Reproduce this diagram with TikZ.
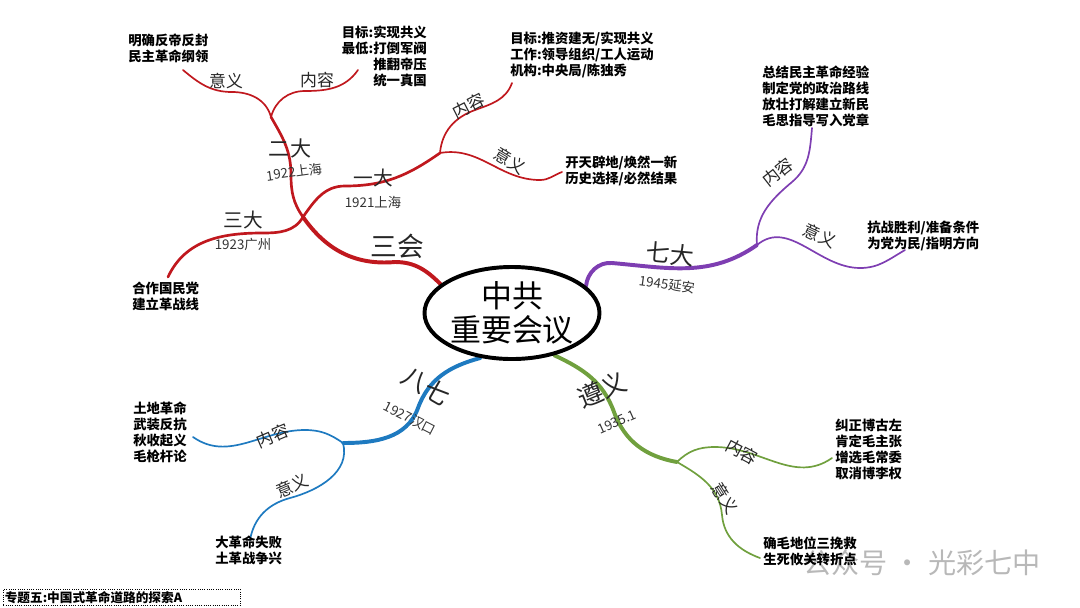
\documentclass[tikz,border=0pt]{standalone}
\usepackage{fontspec}
\setmainfont{Noto Sans CJK SC}
\usetikzlibrary{shapes.geometric,backgrounds}
\definecolor{cpred}{RGB}{192,24,30}
\definecolor{cppurple}{RGB}{126,62,178}
\definecolor{cpblue}{RGB}{30,122,192}
\definecolor{cpgreen}{RGB}{112,160,62}
\tikzset{
  hub/.style={ellipse,draw=black,fill=white,line width=2.8pt,minimum width=4.3cm,
    minimum height=2.3cm,inner sep=0pt,align=center,
    font=\fontsize{22}{24}\selectfont},
  trunk/.style={line width=2.8pt,line cap=round},
  limb/.style={line width=1.9pt,line cap=round},
  twig/.style={line width=1.2pt,line cap=round},
  bigl/.style={font=\fontsize{#1}{#1}\selectfont,text=black!85,inner sep=0pt},
  bigl/.default=15,
  yearl/.style={font=\fontsize{9.5}{10}\selectfont,text=black!80,inner sep=0pt},
  subl/.style={font=\fontsize{12}{12}\selectfont,text=black!85,inner sep=0pt},
  desc/.style={font=\bfseries\fontsize{9.5}{11.2}\selectfont,align=left,inner sep=0pt},
  wmark/.style={font=\fontsize{20}{20}\selectfont,text=black!28,inner sep=0pt},
  tagbox/.style={draw,densely dotted,line width=0.6pt,font=\bfseries\fontsize{9}{10}\selectfont,
    text width=5.85cm,minimum height=0.4cm,inner sep=1pt,align=left},
}
\begin{document}
\begin{tikzpicture}[x=0.025cm,y=0.025cm]
  \useasboundingbox (0,0) rectangle (1080,-607);
  \node[hub] (hub) at (512,-313) {中共\\重要会议};

  \coordinate (rA) at (395,-262);
  \coordinate (rX) at (303,-217);
  \coordinate (r2) at (291,-175);
  \coordinate (j2) at (271,-117);
  \coordinate (m2a) at (232,-92);
  \coordinate (e2a) at (183,-70);
  \coordinate (m2b) at (305,-91);
  \coordinate (e2b) at (358,-70);
  \coordinate (r1m) at (345,-186);
  \coordinate (j1) at (440,-153);
  \coordinate (m1a) at (475,-110);
  \coordinate (e1a) at (512,-83);
  \coordinate (m1b) at (540,-180);
  \coordinate (e1b) at (562,-172);
  \coordinate (m3) at (262,-233);
  \coordinate (e3) at (168,-277);

  \coordinate (p1) at (612,-263);
  \coordinate (j7) at (757,-245);
  \coordinate (m7a) at (792,-182);
  \coordinate (e7a) at (812,-128);
  \coordinate (m7b) at (860,-268);
  \coordinate (e7b) at (905,-250);

  \coordinate (b1) at (418,-408);
  \coordinate (jb) at (343,-443);
  \coordinate (m8a) at (305,-430);
  \coordinate (e8a) at (193,-437);
  \coordinate (m8b) at (290,-498);
  \coordinate (e8b) at (250,-540);

  \coordinate (g1) at (614,-412);
  \coordinate (jg) at (677,-462);
  \coordinate (m9a) at (715,-447);
  \coordinate (e9a) at (832,-458);
  \coordinate (m9b) at (722,-515);
  \coordinate (e9b) at (760,-558);

  \begin{scope}[on background layer]
    \node[wmark] (mark) at (922,-563) {公众号 · 光彩七中};
    \draw[trunk,cpred] (hub.158) to[out=135,in=0] (rA) to[out=185,in=-55] (rX);
    \draw[limb,cpred] (rX) to[out=125,in=-90] (r2) to[out=90,in=-60] (j2);
    \draw[twig,cpred] (j2) to[out=105,in=0] (m2a) to[out=180,in=-40] (e2a);
    \draw[twig,cpred] (j2) to[out=75,in=180] (m2b) to[out=0,in=-125] (e2b);
    \draw[limb,cpred] (rX) to[out=55,in=180] (r1m) to[out=0,in=-145] (j1);
    \draw[twig,cpred] (j1) to[out=85,in=200] (m1a) to[out=20,in=-110] (e1a);
    \draw[twig,cpred] (j1) to[out=10,in=180] (m1b) to[out=0,in=-160] (e1b);
    \draw[limb,cpred] (rX) to[out=-120,in=0] (m3) to[out=180,in=65] (e3);

    \draw[trunk,cppurple] (hub.20) to[out=85,in=175] (p1) to[out=-5,in=-145] (j7);
    \draw[twig,cppurple] (j7) to[out=95,in=-140] (m7a) to[out=40,in=-95] (e7a);
    \draw[twig,cppurple] (j7) to[out=40,in=180] (m7b) to[out=0,in=-150] (e7b);

    \draw[trunk,cpblue] (hub.235) to[out=195,in=70] (b1) to[out=250,in=0] (jb);
    \draw[twig,cpblue] (jb) to[out=145,in=0] (m8a) to[out=180,in=-35] (e8a);
    \draw[twig,cpblue] (jb) to[out=-75,in=15] (m8b) to[out=195,in=80] (e8b);

    \draw[trunk,cpgreen] (hub.315) to[out=-25,in=110] (g1) to[out=-70,in=170] (jg);
    \draw[twig,cpgreen] (jg) to[out=45,in=180] (m9a) to[out=0,in=-145] (e9a);
    \draw[twig,cpgreen] (jg) to[out=-30,in=95] (m9b) to[out=-85,in=160] (e9b);
  \end{scope}

  \node[bigl=19] (sanhui) at (397,-246) {三会};
  \node[bigl] (erda) at (290,-148) {二大};
  \node[yearl,rotate=8] (erday) at (294,-172) {1922上海};
  \node[subl] (erdaa) at (226,-81) {意义};
  \node[subl] (erdab) at (317,-80) {内容};
  \node[bigl=14] (yida) at (373,-178) {一大};
  \node[yearl] (yiday) at (373,-202) {1921上海};
  \node[subl,rotate=27] (yidaa) at (469,-106) {内容};
  \node[subl,rotate=-31] (yidab) at (510,-161) {意义};
  \node[bigl=14] (sanda) at (243,-220) {三大};
  \node[yearl] (sanday) at (243,-244) {1923广州};

  \node[bigl=17,rotate=-5] (qida) at (670,-254) {七大};
  \node[yearl,rotate=-8] (qiday) at (667,-284) {1945延安};
  \node[subl,rotate=38] (qidaa) at (778,-172) {内容};
  \node[subl,rotate=-25] (qidab) at (820,-236) {意义};

  \node[bigl=18,rotate=-30] (baqi) at (426,-386) {八七};
  \node[yearl,rotate=-27] (baqiy) at (410,-418) {1927汉口};
  \node[subl,rotate=23] (baqia) at (273,-436) {内容};
  \node[subl,rotate=23] (baqib) at (292,-486) {意义};

  \node[bigl=18,rotate=22] (zunyi) at (602,-390) {遵义};
  \node[yearl,rotate=24] (zunyiy) at (617,-422) {1935.1};
  \node[subl,rotate=-28] (zunyia) at (742,-452) {内容};
  \node[subl,rotate=-58] (zunyib) at (725,-498) {意义};

  \node[desc,anchor=north west] (t2a) at (128,-34) {明确反帝反封\\民主革命纲领};
  \node[desc,anchor=north east,align=right] (t2b) at (427,-26) {目标:实现共义\\最低:打倒军阀\\推翻帝压\\统一真国};
  \node[desc,anchor=north west] (t1a) at (510,-32) {目标:推资建无/实现共义\\工作:领导组织/工人运动\\机构:中央局/陈独秀};
  \node[desc,anchor=north west] (t1b) at (565,-156) {开天辟地/焕然一新\\历史选择/必然结果};
  \node[desc,anchor=north west] (t3) at (132,-282) {合作国民党\\建立革战线};
  \node[desc,anchor=north west] (t7a) at (762,-66) {总结民主革命经验\\制定党的政治路线\\放壮打解建立新民\\毛思指导写入党章};
  \node[desc,anchor=north west] (t7b) at (867,-221) {抗战胜利/准备条件\\为党为民/指明方向};
  \node[desc,anchor=north west] (t8a) at (133,-402) {土地革命\\武装反抗\\秋收起义\\毛枪杆论};
  \node[desc,anchor=north west] (t8b) at (215,-536) {大革命失败\\土革战争兴};
  \node[desc,anchor=north west] (t9a) at (835,-419) {纠正博古左\\肯定毛主张\\增选毛常委\\取消博李权};
  \node[desc,anchor=north west] (t9b) at (763,-537) {确毛地位三挽救\\生死攸关转折点};

  \node[tagbox,anchor=north west] (tag) at (3,-589) {专题五:中国式革命道路的探索A};
\end{tikzpicture}
\end{document}
